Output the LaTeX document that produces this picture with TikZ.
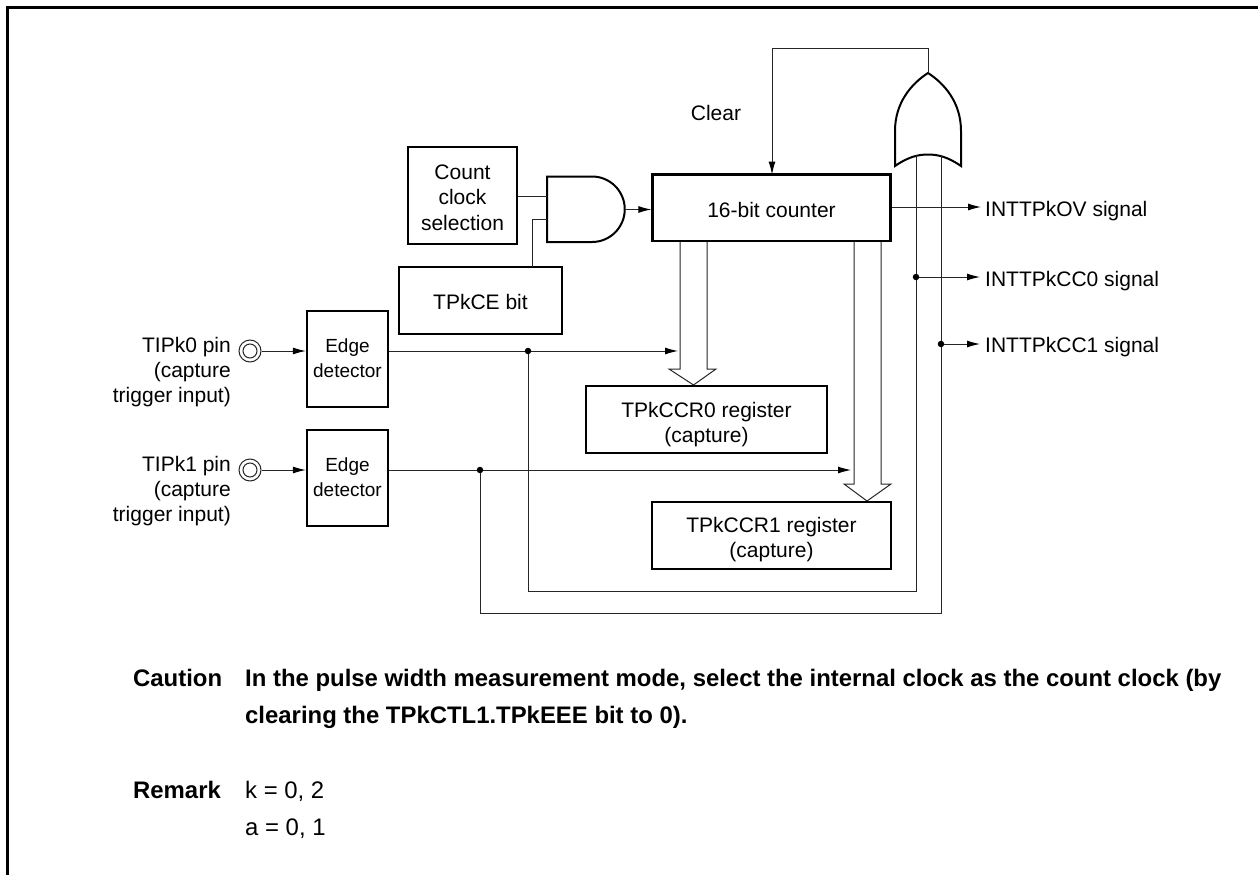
\documentclass[tikz,border=0pt]{standalone}
\usepackage{fontspec}
\setmainfont{Liberation Sans}
\usetikzlibrary{arrows.meta}
\newcommand{\lab}{\fontsize{21}{25.4}\selectfont}
\newcommand{\edgelab}{\fontsize{19}{25.4}\selectfont}
\newcommand{\body}{\fontsize{23.9}{25}\selectfont}
\tikzset{
  x=1pt,y=-1pt,
  box/.style={draw=black,line width=2.2pt,fill=white,inner sep=0pt,align=center,font=\lab},
  wire/.style={draw=black!85,line width=1pt},
  sig/.style={wire,-{Latex[length=13pt,width=7pt,black]}},
  lab/.style={inner sep=0pt,font=\lab,align=center},
  hollow/.style={draw=black!85,line width=1pt,fill=white},
  gate/.style={draw=black,line width=2pt,fill=white},
  dotn/.style={circle,fill=black,inner sep=0pt,minimum size=6.5pt},
  pinring/.style={circle,draw=black!85,line width=1pt,inner sep=0pt},
  txt/.style={inner sep=0pt,anchor=base west,font=\body},
}
\newcommand{\boxat}[5]{\node[box,minimum width=#4-#2,minimum height=#5-#3] (#1) at ({(#2+#4)/2},{(#3+#5)/2}) {};}
\begin{document}
\begin{tikzpicture}
\useasboundingbox (0,0) rectangle (1258,875);
\fill[white] (0,0) rectangle (1258,875);
\draw[line width=3pt,line cap=butt] (7.5,875) -- (7.5,7.5) -- (1258,7.5);
% hollow bus arrows
\draw[hollow] (680,241) -- (680,369) -- (669,369) -- (693.5,385) -- (716,369) -- (707,369) -- (707,241);
\draw[hollow] (854,241) -- (854,484) -- (844,484) -- (867,501) -- (891,484) -- (881,484) -- (881,241);
% boxes
\boxat{counter}{652.5}{174.5}{890.5}{241}
\boxat{ccs}{408}{147}{517}{244}
\boxat{ce}{399}{267}{562}{334}
\boxat{ed0}{307}{311}{388}{407}
\boxat{ed1}{307}{430}{388}{526}
\boxat{reg0}{586}{386}{827}{453}
\boxat{reg1}{652}{502}{891}{569}
\node[lab] (tcounter) at (771.5,210) {16-bit counter};
\node[lab] (tccs) at (462.5,197.5) {Count\\clock\\selection};
\node[lab] (tce) at (480.5,302) {TPkCE bit};
\node[lab,font=\edgelab] (ted0) at (347.5,358.5) {Edge\\detector};
\node[lab,font=\edgelab] (ted1) at (347.5,477.5) {Edge\\detector};
\node[lab] (treg0) at (706.5,424.5) {TPkCCR0 register\\(capture)};
\node[lab] (treg1) at (771.5,539.5) {TPkCCR1 register\\(capture)};
% gates
\draw[gate] (547,176.5) -- (592,176.5) arc[start angle=-90,end angle=90,radius=32.75] -- (547,242) -- cycle;
\coordinate (andout) at (625,209.5);
\coordinate (andin0) at (547,196);
\coordinate (andin1) at (547,219);
\draw[gate,line join=miter] (928,73) .. controls (945,84) and (961,103) .. (961,131) -- (961,166) .. controls (948,157) and (938,154.5) .. (928,154.5) .. controls (918,154.5) and (908,157) .. (895,166) -- (895,131) .. controls (895,103) and (911,84) .. (928,73) -- cycle;
\coordinate (orout) at (928,73);
\coordinate (orin0) at (916,155);
\coordinate (orin1) at (941,156);
% pins
\node[pinring,minimum size=22pt] (p0) at (250,351) {};
\node[pinring,minimum size=14pt] (p0i) at (250,351) {};
\node[pinring,minimum size=22pt] (p1) at (250,470) {};
\node[pinring,minimum size=14pt] (p1i) at (250,470) {};
% connectors
\draw[sig] (andout) -- (andout -| counter.west);
\draw[wire] (ccs.east |- andin0) -- (andin0);
\coordinate (cetop) at (532,267);
\draw[wire] (cetop) |- (andin1);
\draw[sig] (orout) -- (928,49) -- (772,49) -- (772,174.5);
\draw[sig] (p0.east) -- (p0.east -| ed0.west);
\draw[sig] (p1.east) -- (p1.east -| ed1.west);
\coordinate (j0) at (528,351);
\coordinate (j1) at (480,470);
\coordinate (e0) at (678,351);
\coordinate (e1) at (851,470);
\draw[sig] (ed0.east |- e0) -- (e0);
\draw[sig] (ed1.east |- e1) -- (e1);
\node[dotn] (d0) at (j0) {};
\node[dotn] (d1) at (j1) {};
\draw[wire] (d0) -- (528,591) -- (916,591) -- (orin0);
\draw[wire] (d1) -- (480,613) -- (941,613) -- (orin1);
\node[dotn] (d2) at (916,277) {};
\node[dotn] (d3) at (941,344) {};
\coordinate (ov) at (981,207);
\coordinate (c0) at (980,277);
\coordinate (c1) at (980,344);
\draw[sig] (counter.east |- ov) -- (ov);
\draw[sig] (d2) -- (c0);
\draw[sig] (d3) -- (c1);
% labels
\node[lab,anchor=west] (lov) at (985,211) {INTTPkOV signal};
\node[lab,anchor=west] (lc0) at (985,281) {INTTPkCC0 signal};
\node[lab,anchor=west] (lc1) at (985,347) {INTTPkCC1 signal};
\node[lab] (clr) at (716,113) {Clear};
\node[lab,anchor=east,align=right] (t0) at (231,372) {TIPk0 pin\\(capture\\trigger input)};
\node[lab,anchor=east,align=right] (t1) at (231,491) {TIPk1 pin\\(capture\\trigger input)};
% notes
\node[txt] (n1) at (133,686) {\bfseries Caution};
\node[txt] (n2) at (245,686) {\bfseries In the pulse width measurement mode, select the internal clock as the count clock (by};
\node[txt] (n3) at (245,723) {\bfseries clearing the TPkCTL1.TPkEEE bit to 0).};
\node[txt] (n4) at (133,798) {\bfseries Remark};
\node[txt] (n5) at (245,798) {k = 0, 2};
\node[txt] (n6) at (245,835) {a = 0, 1};
\end{tikzpicture}
\end{document}
